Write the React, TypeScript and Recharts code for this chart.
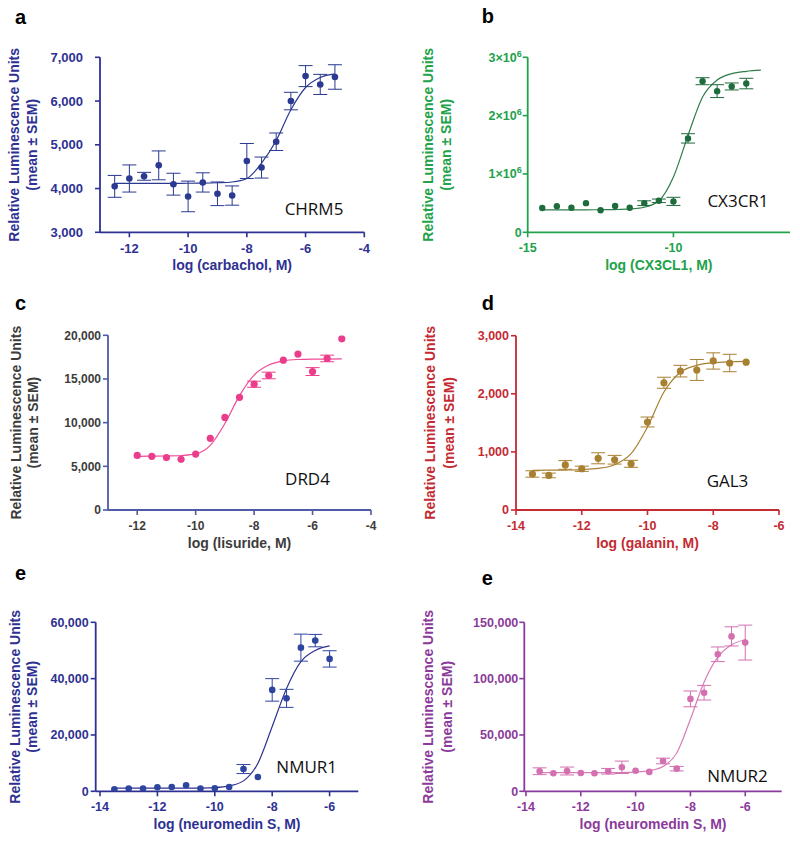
import React from 'react';
import { ComposedChart, Scatter, Line, XAxis, YAxis, ErrorBar } from 'recharts';

const AXIS_FONT = '"Liberation Sans", Arial, Helvetica, sans-serif';
const LABEL_FONT = '"Open Sans", "Noto Sans", sans-serif';

// a: CHRM5 / carbachol
const doseA = [-12.5, -12, -11.5, -11, -10.5, -10, -9.5, -9, -8.5, -8, -7.5, -7, -6.5, -6, -5.5, -5];
const meanA = [4050, 4230, 4280, 4530, 4100, 3820, 4140, 3880, 3840, 4630, 4480, 5070, 6000, 6570, 6380, 6550];
const semA = [250, 310, 90, 330, 250, 350, 220, 270, 220, 400, 240, 200, 200, 240, 230, 280];
const fitA = [4120, 4120, 4120, 4120, 4120, 4121, 4124, 4132, 4150, 4230, 4580, 5100, 5800, 6310, 6540, 6620];

// b: CX3CR1 / CX3CL1
const doseB = [-14.5, -14, -13.5, -13, -12.5, -12, -11.5, -11, -10.5, -10, -9.5, -9, -8.5, -8, -7.5];
const meanB = [417000, 446000, 420000, 500000, 377000, 450000, 420000, 500000, 540000, 530000, 1610000, 2590000, 2420000, 2500000, 2550000];
const semB = [0, 0, 0, 0, 0, 0, 0, 40000, 30000, 70000, 80000, 60000, 110000, 60000, 90000];
const fitDoseB = [-14.5, -14, -13.5, -13, -12.5, -12, -11.5, -11, -10.5, -10, -9.5, -9, -8.5, -8, -7.5, -7];
const fitB = [385000, 385000, 385000, 386000, 387000, 390000, 400000, 430000, 540000, 950000, 1660000, 2320000, 2610000, 2720000, 2760000, 2780000];

// c: DRD4 / lisuride
const doseC = [-12, -11.5, -11, -10.5, -10, -9.5, -9, -8.5, -8, -7.5, -7, -6.5, -6, -5.5, -5];
const meanC = [6250, 6150, 6000, 5800, 6400, 8200, 10600, 12900, 14400, 15400, 17150, 17850, 15850, 17350, 19600];
const semC = [0, 0, 0, 0, 0, 0, 0, 0, 350, 380, 0, 0, 450, 380, 0];
const fitC = [6150, 6160, 6180, 6240, 6420, 7400, 9900, 13100, 15450, 16600, 17080, 17230, 17270, 17280, 17290];

// d: GAL3 / galanin
const doseD = [-13.5, -13, -12.5, -12, -11.5, -11, -10.5, -10, -9.5, -9, -8.5, -8, -7.5, -7];
const meanD = [620, 595, 775, 710, 890, 865, 795, 1515, 2190, 2390, 2410, 2565, 2530, 2545];
const semD = [55, 40, 75, 45, 95, 75, 60, 85, 95, 100, 180, 140, 150, 0];
const fitD = [683, 685, 688, 695, 715, 780, 970, 1430, 2030, 2370, 2490, 2535, 2552, 2558];

// e: NMUR1 / NMUR2, neuromedin S
const doseE = [-13.5, -13, -12.5, -12, -11.5, -11, -10.5, -10, -9.5, -9, -8.5, -8, -7.5, -7, -6.5, -6];
const meanE1 = [710, 950, 950, 1420, 1540, 2130, 950, 1060, 1540, 7900, 5100, 36000, 33000, 51000, 53500, 47000];
const semE1 = [0, 0, 0, 0, 0, 0, 0, 0, 0, 1600, 0, 4000, 3200, 4800, 2200, 2900];
const fitE1 = [1100, 1100, 1100, 1100, 1100, 1105, 1150, 1300, 1900, 3700, 9900, 23000, 36500, 46000, 50000, 51600];
const meanE2 = [17800, 16000, 18000, 16300, 16000, 17800, 21300, 18300, 17200, 26900, 20100, 82000, 87500, 121600, 137500, 132000];
const semE2 = [3000, 0, 3500, 0, 0, 2500, 5500, 0, 0, 2500, 2000, 7000, 6500, 6500, 8500, 15500];
const fitE2 = [16500, 16500, 16500, 16500, 16500, 16550, 16700, 17100, 18300, 22000, 34000, 64000, 97000, 119000, 130000, 134500];

const ROW_TOP = [0, 280, 560];
const ROW_H = [280, 280, 281];

const toPoints = (xs: number[], ys: number[], es?: number[]) =>
  xs.map((x, i) => ({ x, y: ys[i], err: es ? es[i] : 0 }));

type PanelDef = {
  letter: string;
  letterPos: [number, number];
  gene: string;
  genePos: [number, number];
  col: number;
  row: number;
  plot: { left: number; top: number; right: number; bottom: number };
  xDomain: [number, number];
  xTicks: number[];
  yDomain: [number, number];
  yTicks: number[];
  axisColor: string;
  textColor: string;
  dotColor: string;
  curveColor: string;
  dotR: number;
  tickFont: number;
  yTickMargin: number;
  xTitle: string;
  yTitleX: [number, number];
  sci?: boolean;
  points: { x: number; y: number; err: number }[];
  fit: { x: number; y: number }[];
};

const panels: PanelDef[] = [
  {
    letter: 'a', letterPos: [15, 23.5], gene: 'CHRM5', genePos: [314, 215], col: 0, row: 0,
    plot: { left: 100, top: 57.3, right: 364.3, bottom: 232.3 },
    xDomain: [-13, -4], xTicks: [-12, -10, -8, -6, -4],
    yDomain: [3000, 7000], yTicks: [3000, 4000, 5000, 6000, 7000],
    axisColor: '#2e3192', textColor: '#2e3192', dotColor: '#2b3990', curveColor: '#2b3990',
    dotR: 3.3, tickFont: 13, yTickMargin: 12, xTitle: 'log (carbachol, M)', yTitleX: [14, 32.5],
    points: toPoints(doseA, meanA, semA), fit: toPoints(doseA, fitA),
  },
  {
    letter: 'b', letterPos: [481.7, 23], gene: 'CX3CR1', genePos: [738, 206.7], col: 1, row: 0,
    plot: { left: 527.7, top: 57.3, right: 790, bottom: 232.3 },
    xDomain: [-15, -6], xTicks: [-15, -10],
    yDomain: [0, 3000000], yTicks: [0, 1000000, 2000000, 3000000],
    axisColor: '#22a24b', textColor: '#22a24b', dotColor: '#1e6b3b', curveColor: '#2e7d4a',
    dotR: 3.2, tickFont: 12.5, yTickMargin: 1, xTitle: 'log (CX3CL1, M)', yTitleX: [428, 446.5], sci: true,
    points: toPoints(doseB, meanB, semB), fit: toPoints(fitDoseB, fitB),
  },
  {
    letter: 'c', letterPos: [15, 310], gene: 'DRD4', genePos: [307.5, 485], col: 0, row: 1,
    plot: { left: 108, top: 335.3, right: 371, bottom: 510 },
    xDomain: [-13, -4], xTicks: [-12, -10, -8, -6, -4],
    yDomain: [0, 20000], yTicks: [0, 5000, 10000, 15000, 20000],
    axisColor: '#4f5ba5', textColor: '#3c3c3c', dotColor: '#ec3d8c', curveColor: '#ee4c96',
    dotR: 3.6, tickFont: 12, yTickMargin: 2, xTitle: 'log (lisuride, M)', yTitleX: [16, 33],
    points: toPoints(doseC, meanC, semC), fit: toPoints(doseC, fitC),
  },
  {
    letter: 'd', letterPos: [481.7, 310], gene: 'GAL3', genePos: [727.5, 486.7], col: 1, row: 1,
    plot: { left: 516, top: 335.7, right: 779, bottom: 510 },
    xDomain: [-14, -6], xTicks: [-14, -12, -10, -8, -6],
    yDomain: [0, 3000], yTicks: [0, 1000, 2000, 3000],
    axisColor: '#c42a32', textColor: '#c42a32', dotColor: '#a88031', curveColor: '#a88031',
    dotR: 3.6, tickFont: 12.5, yTickMargin: 2, xTitle: 'log (galanin, M)', yTitleX: [430, 449],
    points: toPoints(doseD, meanD, semD), fit: toPoints(doseD, fitD),
  },
  {
    letter: 'e', letterPos: [15, 579.5], gene: 'NMUR1', genePos: [306.7, 773], col: 0, row: 2,
    plot: { left: 95.7, top: 622.3, right: 358.3, bottom: 791.3 },
    xDomain: [-14.15, -5], xTicks: [-14, -12, -10, -8, -6],
    yDomain: [0, 60000], yTicks: [0, 20000, 40000, 60000],
    axisColor: '#2e3192', textColor: '#2e3192', dotColor: '#2e45a0', curveColor: '#2e3192',
    dotR: 3.3, tickFont: 12.5, yTickMargin: 2, xTitle: 'log (neuromedin S, M)', yTitleX: [15, 32],
    points: toPoints(doseE, meanE1, semE1), fit: toPoints(doseE, fitE1),
  },
  {
    letter: 'e', letterPos: [481.7, 585], gene: 'NMUR2', genePos: [737.5, 781.7], col: 1, row: 2,
    plot: { left: 524.3, top: 622.3, right: 781.7, bottom: 791.3 },
    xDomain: [-14.06, -4.67], xTicks: [-14, -12, -10, -8, -6],
    yDomain: [0, 150000], yTicks: [0, 50000, 100000, 150000],
    axisColor: '#8b3a9b', textColor: '#8b3a9b', dotColor: '#d46fb0', curveColor: '#d77db8',
    dotR: 3.3, tickFont: 12.5, yTickMargin: 1, xTitle: 'log (neuromedin S, M)', yTitleX: [428.3, 446.7],
    points: toPoints(doseE, meanE2, semE2), fit: toPoints(doseE, fitE2),
  },
];

function DosePanel({ p }: { p: PanelDef }) {
  const colX = p.col * 400;
  const rowTop = ROW_TOP[p.row];
  const h = ROW_H[p.row];
  const { left, top, right, bottom } = p.plot;
  const tickStyle = { fill: p.textColor, fontSize: p.tickFont, fontWeight: 700, fontFamily: AXIS_FONT };

  const sciTick = (props: any) => {
    const v = props.payload.value;
    return (
      <text x={props.x} y={props.y} dy={4.5} textAnchor="end" {...tickStyle}>
        {v === 0 ? '0' : (
          <>
            {v / 1e6}×10<tspan dy={-5} fontSize={9}>6</tspan>
          </>
        )}
      </text>
    );
  };

  return (
    <div style={{ position: 'absolute', left: colX, top: rowTop }}>
      <ComposedChart
        width={400}
        height={h}
        margin={{ top: top - rowTop, right: colX + 400 - right, bottom: 0, left: 0 }}
      >
        <XAxis
          type="number"
          dataKey="x"
          domain={p.xDomain}
          ticks={p.xTicks}
          interval={0}
          allowDataOverflow
          height={rowTop + h - bottom}
          axisLine={{ stroke: p.axisColor, strokeWidth: 1.8 }}
          tickLine={{ stroke: p.axisColor, strokeWidth: 1.6 }}
          tickSize={5}
          tickMargin={6}
          tick={tickStyle}
        />
        <YAxis
          type="number"
          domain={p.yDomain}
          ticks={p.yTicks}
          interval={0}
          allowDataOverflow
          width={left - colX}
          axisLine={{ stroke: p.axisColor, strokeWidth: 1.8 }}
          tickLine={{ stroke: p.axisColor, strokeWidth: 1.6 }}
          tickSize={5}
          tickMargin={p.yTickMargin}
          tick={p.sci ? sciTick : tickStyle}
          tickFormatter={(v: number) => v.toLocaleString('en-US')}
        />
        <Line
          data={p.fit}
          dataKey="y"
          type="monotone"
          dot={false}
          activeDot={false}
          stroke={p.curveColor}
          strokeWidth={1.2}
          isAnimationActive={false}
        />
        <Scatter
          data={p.points}
          dataKey="y"
          fill={p.dotColor}
          isAnimationActive={false}
          shape={(s: any) => <circle cx={s.cx} cy={s.cy} r={p.dotR} fill={p.dotColor} />}
        >
          <ErrorBar dataKey="err" direction="y" width={7} stroke={p.dotColor} strokeWidth={1} />
        </Scatter>
      </ComposedChart>
    </div>
  );
}

function Titles({ p }: { p: PanelDef }) {
  const { left, top, right, bottom } = p.plot;
  const cy = (top + bottom) / 2;
  const titleStyle = { fill: p.textColor, fontSize: 14, fontWeight: 700, fontFamily: AXIS_FONT };
  return (
    <g>
      <text x={p.letterPos[0]} y={p.letterPos[1]} fontSize={20} fontWeight={700} fontFamily={AXIS_FONT} fill="#000">
        {p.letter}
      </text>
      <text x={p.genePos[0]} y={p.genePos[1]} textAnchor="middle" fontSize={17} fontFamily={LABEL_FONT} fill="#111">
        {p.gene}
      </text>
      <text x={(left + right) / 2} y={bottom + 38} textAnchor="middle" {...titleStyle}>
        {p.xTitle}
      </text>
      <text x={p.yTitleX[0]} y={cy} textAnchor="middle" dominantBaseline="central"
        transform={`rotate(-90 ${p.yTitleX[0]} ${cy})`} {...titleStyle}>
        Relative Luminescence Units
      </text>
      <text x={p.yTitleX[1]} y={cy} textAnchor="middle" dominantBaseline="central"
        transform={`rotate(-90 ${p.yTitleX[1]} ${cy})`} {...titleStyle}>
        (mean ± SEM)
      </text>
    </g>
  );
}

export default function App() {
  return (
    <div style={{ position: 'absolute', left: 0, top: 0, width: 800, height: 841, background: '#fff' }}>
      {panels.map((p, i) => (
        <DosePanel key={i} p={p} />
      ))}
      <svg width={800} height={841} style={{ position: 'absolute', left: 0, top: 0, pointerEvents: 'none' }}>
        {panels.map((p, i) => (
          <Titles key={i} p={p} />
        ))}
      </svg>
    </div>
  );
}
